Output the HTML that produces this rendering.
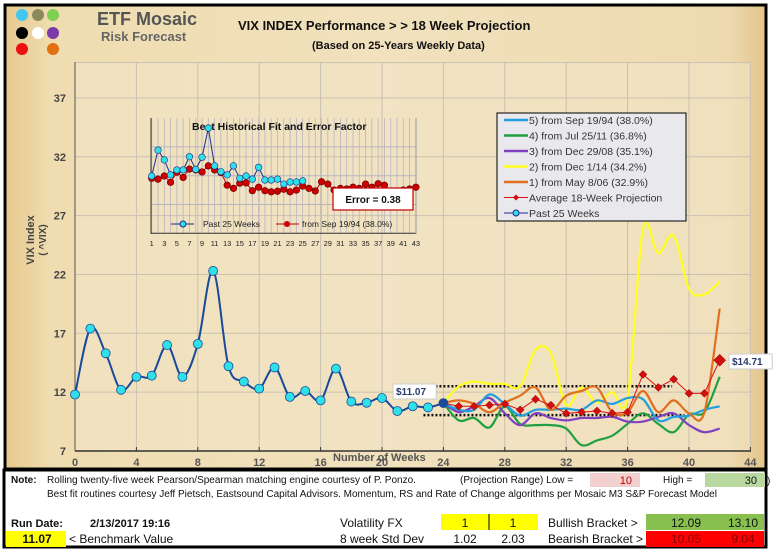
<!DOCTYPE html>
<html><head><meta charset="utf-8"><style>
body{margin:0;width:774px;height:552px;overflow:hidden;background:#fff;font-family:"Liberation Sans",sans-serif}
svg text{font-family:"Liberation Sans",sans-serif}
</style></head><body>
<svg id="c" width="774" height="552" xmlns="http://www.w3.org/2000/svg">
<defs>
<linearGradient id="bg" x1="0" x2="1" y1="0" y2="0">
<stop offset="0" stop-color="#e6c98e"/><stop offset="0.06" stop-color="#efdcb0"/><stop offset="0.5" stop-color="#f1e1bd"/><stop offset="0.95" stop-color="#eedab0"/><stop offset="1" stop-color="#e3c48a"/></linearGradient>
</defs>
<rect x="0" y="0" width="774" height="552" fill="#fff"/>
<rect x="5" y="5" width="761" height="464" fill="url(#bg)" stroke="#000" stroke-width="3"/>
<rect x="75" y="62" width="676" height="389" fill="#f2e5c6" opacity="0.6"/>
<g>
<circle cx="22" cy="15" r="6" fill="#40c8f0"/><circle cx="38" cy="15" r="6" fill="#8c8a5c"/><circle cx="53" cy="15" r="6" fill="#7fd050"/>
<circle cx="22" cy="33" r="6" fill="#000"/><circle cx="38" cy="33" r="6" fill="#fff"/><circle cx="53" cy="33" r="6" fill="#7a3aa8"/>
<circle cx="22" cy="49" r="6" fill="#ee1010"/><circle cx="53" cy="49" r="6" fill="#e07010"/>
</g>
<text x="97" y="25" font-size="18" font-weight="bold" fill="#555">ETF Mosaic</text>
<text x="101" y="41" font-size="13" font-weight="bold" fill="#666">Risk Forecast</text>
<text x="238" y="30" font-size="13" font-weight="bold" fill="#111">VIX  INDEX Performance &gt; &gt; 18 Week Projection</text>
<text x="312" y="49" font-size="11" font-weight="bold" fill="#111">(Based on 25-Years Weekly Data)</text>
<g id="grid"></g>
<g id="axes"></g>
<text transform="translate(34,240) rotate(-90)" font-size="11" font-weight="bold" fill="#444" text-anchor="middle">VIX Index</text>
<text transform="translate(46,240) rotate(-90)" font-size="10" font-weight="bold" fill="#444" text-anchor="middle">( ^VIX)</text>
<g id="inset"></g>
<g id="series"></g>
<text x="333" y="461" font-size="11" font-weight="bold" fill="#555">Number of Weeks</text>
<g id="legend">
<rect x="497" y="113" width="189" height="108" fill="#e9e8ec" stroke="#000" stroke-width="1"/>
</g>
<!-- notes -->
<rect x="4" y="470" width="762" height="77" fill="#fff" stroke="#000" stroke-width="3"/>
<g font-size="10" fill="#111">
<text x="11" y="483" font-weight="bold">Note:</text>
<text x="47" y="483">Rolling twenty-five week Pearson/Spearman matching engine courtesy of P. Ponzo.</text>
<text x="460" y="483">(Projection Range) Low =</text>
<rect x="590" y="473" width="50" height="14" fill="#f2d0d0"/><text x="632" y="484" text-anchor="end" fill="#c00000" font-size="11">10</text>
<text x="663" y="483">High =</text>
<rect x="705" y="473" width="60" height="14" fill="#b8d8a0"/><text x="757" y="484" text-anchor="end" font-size="11">30</text>
<text x="767" y="484">)</text>
<text x="47" y="497">Best fit routines courtesy Jeff Pietsch, Eastsound Capital Advisors.     Momentum, RS and Rate of Change algorithms per Mosaic M3 S&amp;P Forecast Model</text>
<text x="11" y="527" font-size="11" font-weight="bold">Run Date:</text>
<text x="90" y="527" font-size="11" font-weight="bold">2/13/2017 19:16</text>
<rect x="6" y="531" width="60" height="16" fill="#ffff00"/>
<text x="37" y="543" text-anchor="middle" font-size="12" font-weight="bold">11.07</text>
<text x="69" y="543" font-size="12">&lt; Benchmark Value</text>
<text x="340" y="527" font-size="12">Volatility FX</text>
<text x="340" y="543" font-size="12">8 week Std Dev</text>
<rect x="441" y="514" width="97" height="16" fill="#ffff00"/><line x1="489" y1="514" x2="489" y2="530" stroke="#000"/>
<text x="465" y="527" text-anchor="middle" font-size="12">1</text><text x="513" y="527" text-anchor="middle" font-size="12">1</text>
<text x="465" y="543" text-anchor="middle" font-size="12">1.02</text><text x="513" y="543" text-anchor="middle" font-size="12">2.03</text>
<text x="548" y="527" font-size="12">Bullish Bracket &gt;</text>
<text x="548" y="543" font-size="12">Bearish Bracket &gt;</text>
<rect x="646" y="514" width="118" height="16" fill="#88c050"/>
<rect x="646" y="531" width="118" height="16" fill="#ff0000"/>
<text x="686" y="527" text-anchor="middle" font-size="12">12.09</text><text x="743" y="527" text-anchor="middle" font-size="12">13.10</text>
<text x="686" y="543" text-anchor="middle" font-size="12" fill="#800">10.05</text><text x="743" y="543" text-anchor="middle" font-size="12" fill="#800">9.04</text>
</g>
</svg>
<script>
const pastWeeks=[0,1,2,3,4,5,6,7,8,9,10,11,12,13,14,15,16,17,18,19,20,21,22,23,24];
const pastValues=[11.8,17.4,15.3,12.2,13.3,13.4,16.0,13.3,16.1,22.3,14.2,12.9,12.3,14.1,11.6,12.1,11.3,14.0,11.2,11.1,11.5,10.4,10.8,10.7,11.07];
const projWeeks=[24,25,26,27,28,29,30,31,32,33,34,35,36,37,38,39,40,41,42];
const proj5=[11.07,10.5,10.5,11.8,11.0,10.0,10.5,10.5,10.6,10.5,11.3,11.0,11.5,11.4,9.6,9.9,10.0,10.5,10.8];
const proj4=[11.07,9.6,9.8,9.0,10.8,9.3,9.2,9.2,8.9,7.5,7.9,8.3,9.3,10.2,9.3,8.6,10.1,10.3,13.3];
const proj3=[11.07,10.3,10.8,11.5,10.2,9.2,10.2,9.8,9.6,9.8,9.8,9.9,9.5,9.5,9.9,10.2,9.2,8.6,8.9];
const proj2=[11.07,12.5,12.9,12.7,12.7,12.5,15.6,15.3,10.9,12.4,11.1,12.0,11.5,25.8,23.8,25.3,20.8,20.3,21.4];
const proj1=[11.07,11.3,11.0,10.3,11.1,11.7,12.4,10.5,11.7,12.1,12.4,10.3,10.3,12.1,10.3,11.3,10.2,10.3,19.1];
const projAvg=[11.07,10.8,10.8,10.9,11.0,10.5,11.4,10.9,10.2,10.3,10.4,10.2,10.3,13.5,12.4,13.1,11.9,11.9,14.71];
const yTicks=[7,12,17,22,27,32,37];
const xTicks=[0,4,8,12,16,20,24,28,32,36,40,44];
const rangeHigh=12.5, rangeLow=10.05, rangeStart=22.7, rangeHighEnd=38.9, rangeLowEnd=39.7;
const insetPast=[1.99,2.89,2.55,2.03,2.20,2.20,2.66,2.22,2.64,3.65,2.34,2.14,2.03,2.34,1.91,1.99,1.88,2.29,1.85,1.85,1.88,1.71,1.78,1.78,1.82];
const insetFit=[1.91,1.88,1.99,1.77,2.12,1.94,2.23,2.20,2.13,2.34,2.20,2.11,1.67,1.56,1.74,1.75,1.48,1.60,1.48,1.44,1.46,1.53,1.44,1.50,1.64,1.56,1.47,1.79,1.71,1.50,1.56,1.54,1.60,1.56,1.71,1.60,1.72,1.67,1.47,1.47,1.50,1.54,1.60];

const NS='http://www.w3.org/2000/svg';
function mk(tag,attrs,parent){const e=document.createElementNS(NS,tag);for(const k in attrs)e.setAttribute(k,attrs[k]);parent.appendChild(e);return e;}
const X=w=>75+w*15.35;
const Y=v=>451-(v-7)*11.77;
function smooth(pts){let d='M'+pts[0][0]+','+pts[0][1];for(let i=0;i<pts.length-1;i++){const p0=pts[i-1]||pts[i],p1=pts[i],p2=pts[i+1],p3=pts[i+2]||p2;
const c1=[p1[0]+(p2[0]-p0[0])/6,p1[1]+(p2[1]-p0[1])/6],c2=[p2[0]-(p3[0]-p1[0])/6,p2[1]-(p3[1]-p1[1])/6];
d+=' C'+c1[0].toFixed(1)+','+c1[1].toFixed(1)+' '+c2[0].toFixed(1)+','+c2[1].toFixed(1)+' '+p2[0].toFixed(1)+','+p2[1].toFixed(1);}return d;}

const grid=document.getElementById('grid'),axes=document.getElementById('axes'),series=document.getElementById('series');
yTicks.forEach(v=>{const l=mk('line',{x1:75,x2:751,y1:Y(v),y2:Y(v),stroke:'#c9c1b0','stroke-width':1},grid);

const t=mk('text',{x:66,y:Y(v)+4,'font-size':11,'font-weight':'bold',fill:'#444','text-anchor':'end'},axes);t.textContent=v;
});
mk('line',{x1:75,x2:751,y1:Y(40),y2:Y(40),stroke:'#c9c1b0'},grid);
xTicks.forEach(w=>{const l=mk('line',{x1:X(w),x2:X(w),y1:62,y2:451,stroke:'#c9c1b0'},grid);

mk('line',{x1:X(w),x2:X(w),y1:447,y2:451,stroke:'#333'},axes);
const t=mk('text',{x:X(w),y:466,'font-size':11,'font-weight':'bold',fill:'#555','text-anchor':'middle'},axes);t.textContent=w;
});
mk('line',{x1:75,x2:75,y1:62,y2:451,stroke:'#555'},axes);
mk('line',{x1:75,x2:751,y1:451,y2:451,stroke:'#333','stroke-width':1.5},axes);

// inset
const ins=document.getElementById('inset');

const IX=i=>151.7+(i-1)*6.29, IY=l=>233.3-l*28.8;
for(let i=1;i<=43;i++)mk('line',{x1:IX(i),x2:IX(i),y1:118,y2:233,stroke:'#b8b4c0','stroke-width':0.8},ins);
[1,2,3].forEach(l=>mk('line',{x1:151,x2:416,y1:IY(l),y2:IY(l),stroke:'#b8b4c0'},ins));
mk('line',{x1:151,x2:151,y1:118,y2:234,stroke:'#333'},ins);
mk('line',{x1:151,x2:416,y1:233.3,y2:233.3,stroke:'#333'},ins);
mk('line',{x1:416,x2:416,y1:118,y2:234,stroke:'#999'},ins);
for(let i=1;i<=43;i+=2){const t=mk('text',{x:IX(i),y:246,'font-size':7.5,fill:'#222','text-anchor':'middle'},ins);t.textContent=i;
}
let it=mk('text',{x:192,y:130,'font-size':10.5,'font-weight':'bold',fill:'#111'},ins);it.textContent='Best  Historical Fit and Error Factor';

mk('polyline',{points:insetFit.map((v,i)=>IX(i+1)+','+IY(v)).join(' '),fill:'none',stroke:'#c00000','stroke-width':1},ins);
mk('polyline',{points:insetPast.map((v,i)=>IX(i+1)+','+IY(v)).join(' '),fill:'none',stroke:'#1c2c8c','stroke-width':1},ins);
insetFit.forEach((v,i)=>{const c=mk('circle',{cx:IX(i+1),cy:IY(v),r:3.3,fill:'#cc0000',stroke:'#600','stroke-width':0.6},ins);
});
insetPast.forEach((v,i)=>{const c=mk('circle',{cx:IX(i+1),cy:IY(v),r:3.3,fill:'#30e0e8',stroke:'#1c2c8c','stroke-width':0.6},ins);
});
mk('line',{x1:171,x2:194,y1:224,y2:224,stroke:'#1c2c8c'},ins);mk('circle',{cx:183,cy:224,r:3,fill:'#30e0e8',stroke:'#1c2c8c'},ins);
it=mk('text',{x:203,y:227,'font-size':8.5,fill:'#222'},ins);it.textContent='Past 25 Weeks';
mk('line',{x1:276,x2:299,y1:224,y2:224,stroke:'#c00000'},ins);mk('circle',{cx:287,cy:224,r:3,fill:'#cc0000'},ins);
it=mk('text',{x:302,y:227,'font-size':8.5,fill:'#222'},ins);it.textContent='from Sep 19/94 (38.0%)';
const eb=mk('rect',{x:333,y:188,width:80,height:22,fill:'#fff',stroke:'#c00000','stroke-width':1.2},ins);

it=mk('text',{x:373,y:203,'font-size':10,'font-weight':'bold',fill:'#111','text-anchor':'middle'},ins);it.textContent='Error = 0.38';

// range dotted lines
let rl=mk('line',{x1:X(rangeStart),x2:X(rangeHighEnd),y1:Y(rangeHigh),y2:Y(rangeHigh),stroke:'#111','stroke-width':2.5,'stroke-dasharray':'2,2'},series);

rl=mk('line',{x1:X(rangeStart),x2:X(rangeLowEnd),y1:Y(rangeLow),y2:Y(rangeLow),stroke:'#111','stroke-width':2.5,'stroke-dasharray':'2,2'},series);


const projs=[[proj2,'#ffff20','projection-2'],[proj4,'#20a040','projection-4'],[proj3,'#8040c0','projection-3'],[proj5,'#20a0e0','projection-5'],[proj1,'#e07020','projection-1']];
projs.forEach(([arr,col,name])=>{const p=mk('path',{d:smooth(arr.map((v,i)=>[X(projWeeks[i]),Y(v)])),fill:'none',stroke:col,'stroke-width':2.2},series);
});
let ap=mk('polyline',{points:projAvg.map((v,i)=>X(projWeeks[i])+','+Y(v)).join(' '),fill:'none',stroke:'#e01010','stroke-width':1},series);

projAvg.forEach((v,i)=>{if(i==0)return;const x=X(projWeeks[i]),y=Y(v),s=i==projAvg.length-1?6:4;
const d=mk('polygon',{points:`${x},${y-s} ${x+s},${y} ${x},${y+s} ${x-s},${y}`,fill:'#d01010',stroke:'#900','stroke-width':0.5},series);
});
const pl=mk('path',{d:smooth(pastValues.map((v,i)=>[X(pastWeeks[i]),Y(v)])),fill:'none',stroke:'#1a4a9a','stroke-width':2},series);

pastValues.forEach((v,i)=>{const c=mk('circle',{cx:X(pastWeeks[i]),cy:Y(v),r:4.5,fill:i==24?'#1a4a9a':'#30e0e8',stroke:'#1a4a9a','stroke-width':0.8},series);
});
// value labels
function lab(x,y,txt,name){const r=mk('rect',{x:x,y:y-11,width:txt.length*6.2+6,height:15,fill:'#fff',stroke:'#ccc'},series);

const t=mk('text',{x:x+3,y:y,'font-size':10,'font-weight':'bold',fill:'#2a3a6a'},series);t.textContent=txt;}
lab(393,395,'$11.07','benchmark-label');
lab(729,365,'$14.71','projection-end-label');

// legend
const lg=document.getElementById('legend');
const items=[['#20a0e0','5)  from Sep 19/94 (38.0%)'],['#20a040','4)  from Jul 25/11 (36.8%)'],['#8040c0','3)  from Dec 29/08 (35.1%)'],['#ffff20','2)  from Dec 1/14 (34.2%)'],['#e07020','1)  from May 8/06 (32.9%)'],['#e01010','  Average 18-Week Projection'],['#1a2a8a','  Past 25 Weeks']];
items.forEach((it,i)=>{const y=120+i*15.5;
mk('line',{x1:504,x2:528,y1:y,y2:y,stroke:it[0],'stroke-width':i<5?2.5:1},lg);
if(i==5)mk('polygon',{points:`516,${y-3} 519,${y} 516,${y+3} 513,${y}`,fill:'#d01010'},lg);
if(i==6)mk('circle',{cx:516,cy:y,r:3,fill:'#30e0e8',stroke:'#1a2a8a'},lg);
const t=mk('text',{x:529,y:y+4,'font-size':10.5,fill:'#333'},lg);t.textContent=it[1];
});
</script>
</body></html>
